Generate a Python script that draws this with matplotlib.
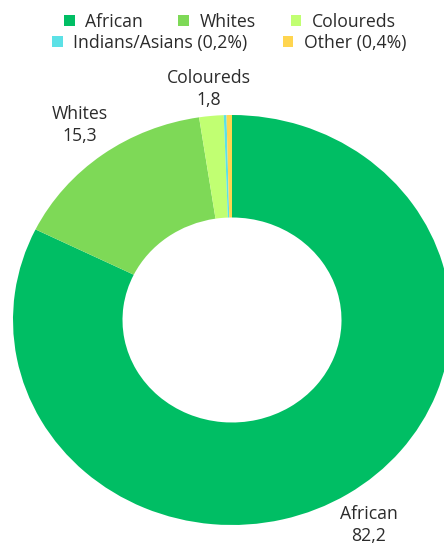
import numpy as np
import matplotlib
matplotlib.use("Agg")
import matplotlib.pyplot as plt
from matplotlib.patches import Patch

plt.rcParams["font.family"] = ["Open Sans", "DejaVu Sans"]

groups = ["African", "Whites", "Coloureds", "Indians/Asians", "Other"]
shares = [82.2, 15.3, 1.8, 0.2, 0.4]
legend_labels = ["African", "Whites", "Coloureds", "Indians/Asians (0,2%)", "Other (0,4%)"]
colors = ["#00BE64", "#7ED957", "#C1FF72", "#5CE1E6", "#FFD54F"]
labelled = ["African", "Whites", "Coloureds"]
label_dist = {"African": 1.18, "Whites": 1.18, "Coloureds": 1.13}

fig = plt.figure(figsize=(4.44, 5.46), dpi=100)
ax = fig.add_axes([0, 0, 1, 1])

wedges, _ = ax.pie(shares, colors=colors, startangle=90, counterclock=False,
                   wedgeprops=dict(width=0.5, linewidth=0))
ax.set_aspect("auto")
ax.set_xlim(-232 / 219, (444 - 232) / 219)
ax.set_ylim((320 - 546) / 205, 320 / 205)
ax.axis("off")

for w, name, val in zip(wedges, groups, shares):
    if name not in labelled:
        continue
    ang = np.deg2rad((w.theta1 + w.theta2) / 2)
    r = label_dist[name]
    ax.text(r * np.cos(ang), r * np.sin(ang), f"{name}\n{val:.1f}".replace(".", ","),
            ha="center", va="center", fontsize=12.7, color="#2b2b2b", linespacing=1.3)

handles = [Patch(facecolor=c, edgecolor="none") for c in colors]
kw = dict(frameon=False, fontsize=12.7, handlelength=0.6, handleheight=0.6,
          handletextpad=0.6, borderaxespad=0, labelcolor="#2b2b2b")
fig.legend(handles[:3], legend_labels[:3], ncol=3, loc="center",
           bbox_to_anchor=(230 / 444, 1 - 22 / 546), columnspacing=2.0, **kw)
fig.legend(handles[3:], legend_labels[3:], ncol=2, loc="center",
           bbox_to_anchor=(229 / 444, 1 - 43 / 546), columnspacing=2.0, **kw)

fig.savefig("out.png", dpi=100)
